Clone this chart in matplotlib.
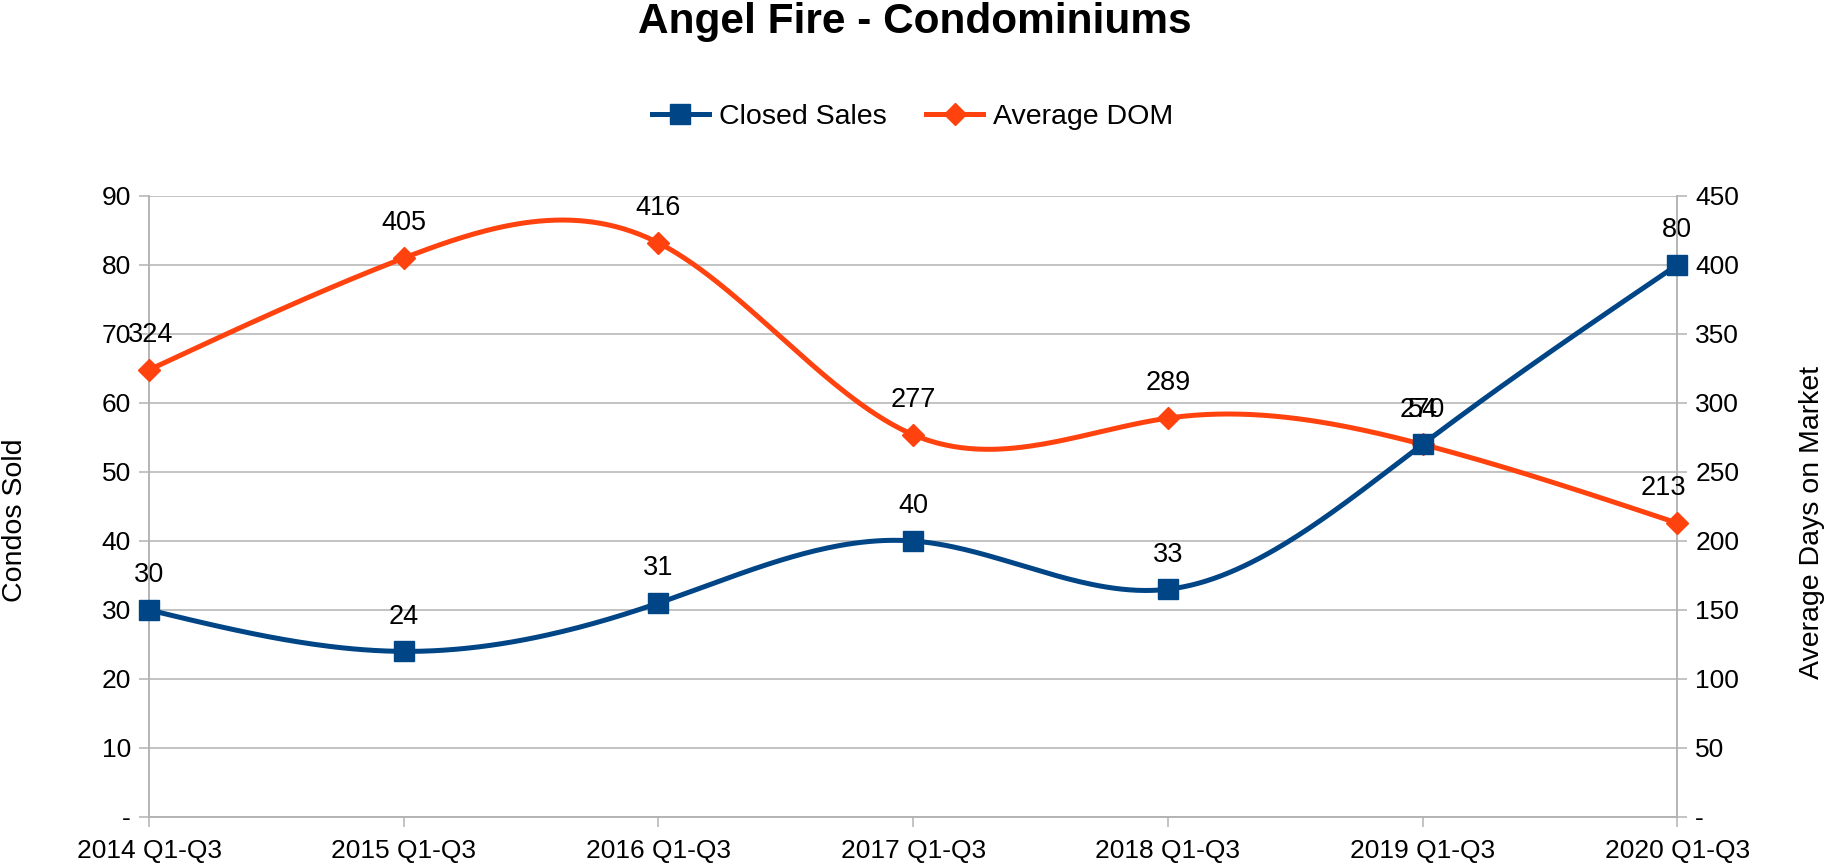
import numpy as np
import matplotlib
matplotlib.use("Agg")
import matplotlib.pyplot as plt
from matplotlib.lines import Line2D

plt.rcParams['font.family'] = ['Liberation Sans', 'DejaVu Sans']

categories = ["2014 Q1-Q3", "2015 Q1-Q3", "2016 Q1-Q3", "2017 Q1-Q3",
              "2018 Q1-Q3", "2019 Q1-Q3", "2020 Q1-Q3"]
closed_sales = [30, 24, 31, 40, 33, 54, 80]
average_dom = [324, 405, 416, 277, 289, 270, 213]
left_ticks = [0, 10, 20, 30, 40, 50, 60, 70, 80, 90]
left_ticklabels = ["-", "10", "20", "30", "40", "50", "60", "70", "80", "90"]
right_ticks = [0, 50, 100, 150, 200, 250, 300, 350, 400, 450]
right_ticklabels = ["-", "50", "100", "150", "200", "250", "300", "350", "400", "450"]

BLUE = "#004586"
ORANGE = "#ff420e"
GRID = "#b3b3b3"
LW = 3.6
# horizontal nudge (points) of the DOM value labels, as in the reference
dom_label_dx = [1, 0, 0, 0, 0, 0, -10]


def natural_spline(x, y, n=400):
    x = np.asarray(x, float)
    y = np.asarray(y, float)
    m = len(x)
    h = np.diff(x)
    A = np.zeros((m, m))
    b = np.zeros(m)
    A[0, 0] = 1
    A[-1, -1] = 1
    for i in range(1, m - 1):
        A[i, i - 1] = h[i - 1]
        A[i, i] = 2 * (h[i - 1] + h[i])
        A[i, i + 1] = h[i]
        b[i] = 6 * ((y[i + 1] - y[i]) / h[i] - (y[i] - y[i - 1]) / h[i - 1])
    M = np.linalg.solve(A, b)
    xs = np.linspace(x[0], x[-1], n)
    ys = np.empty_like(xs)
    for k, xv in enumerate(xs):
        i = min(np.searchsorted(x, xv, side='right') - 1, m - 2)
        i = max(i, 0)
        t1 = x[i + 1] - xv
        t0 = xv - x[i]
        hi = h[i]
        ys[k] = (M[i] * t1 ** 3 / (6 * hi) + M[i + 1] * t0 ** 3 / (6 * hi)
                 + (y[i] / hi - M[i] * hi / 6) * t1
                 + (y[i + 1] / hi - M[i + 1] * hi / 6) * t0)
    return xs, ys


fig = plt.figure(figsize=(18.29, 8.66), dpi=100)
ax = fig.add_axes([0.0815, 0.0566, 0.917 - 0.0815, 0.7737 - 0.0566])
ax2 = ax.twinx()

x = np.arange(len(categories))

ax.set_ylim(0, 90)
ax2.set_ylim(0, 450)
ax.set_xlim(0, len(categories) - 1)
ax.set_yticks(left_ticks)
ax.set_yticklabels(left_ticklabels)
ax2.set_yticks(right_ticks)
ax2.set_yticklabels(right_ticklabels)
ax.set_xticks(x)
ax.set_xticklabels(categories)
ax.yaxis.grid(True, color=GRID, linewidth=1.1)
ax.set_axisbelow(True)

for a in (ax, ax2):
    for s in a.spines.values():
        s.set_color(GRID)
        s.set_linewidth(1.1)
    a.spines['top'].set_visible(False)
    a.tick_params(colors=GRID, labelcolor='black', labelsize=19, length=7, width=1.1)
ax.tick_params(axis='y', pad=6)
ax2.tick_params(axis='y', pad=6)
ax.tick_params(axis='x', pad=9)

# Average DOM (right axis)
xs, ys = natural_spline(x, average_dom)
ax2.plot(xs, ys, color=ORANGE, linewidth=LW, zorder=3, clip_on=False)
ax2.plot(x, average_dom, linestyle='none', marker='D', markersize=11.5,
         color=ORANGE, zorder=4, clip_on=False)
for xi, v, dx in zip(x, average_dom, dom_label_dx):
    ax2.annotate(str(v), (xi, v), xytext=(dx, 25), textcoords='offset points',
                 ha='center', va='center', fontsize=19.5, color='black', zorder=6)

# Closed Sales (left axis, scaled to right-axis coordinates so it is drawn on top layer)
scale = 450 / 90
xs, ys = natural_spline(x, closed_sales)
ax2.plot(xs, ys * scale, color=BLUE, linewidth=LW, zorder=3, clip_on=False)
ax2.plot(x, np.array(closed_sales) * scale, linestyle='none', marker='s',
         markersize=14, color=BLUE, zorder=4, clip_on=False)
for xi, v in zip(x, closed_sales):
    ax.annotate(str(v), (xi, v), xytext=(0, 25), textcoords='offset points',
                ha='center', va='center', fontsize=19.5, color='black', zorder=6)

fig.text(0.5, 1 - 22 / 866, "Angel Fire - Condominiums", ha='center', va='center',
         fontsize=30.5, fontweight='bold')
fig.text(15 / 1829, 1 - 520 / 866, "Condos Sold", rotation=90, ha='center',
         va='center', fontsize=20.5)
fig.text(1812 / 1829, 1 - 522 / 866, "Average Days on Market", rotation=90,
         ha='center', va='center', fontsize=20.5)

handles = [Line2D([], [], color=BLUE, linewidth=LW, marker='s', markersize=14),
           Line2D([], [], color=ORANGE, linewidth=LW, marker='D', markersize=11.5)]
fig.legend(handles, ["Closed Sales", "Average DOM"], loc='center',
           bbox_to_anchor=(0.499, 1 - 117 / 866), ncol=2, frameon=False,
           fontsize=20.5, handlelength=2.0, columnspacing=1.4, handletextpad=0.35)

fig.savefig("out.png", dpi=100)
